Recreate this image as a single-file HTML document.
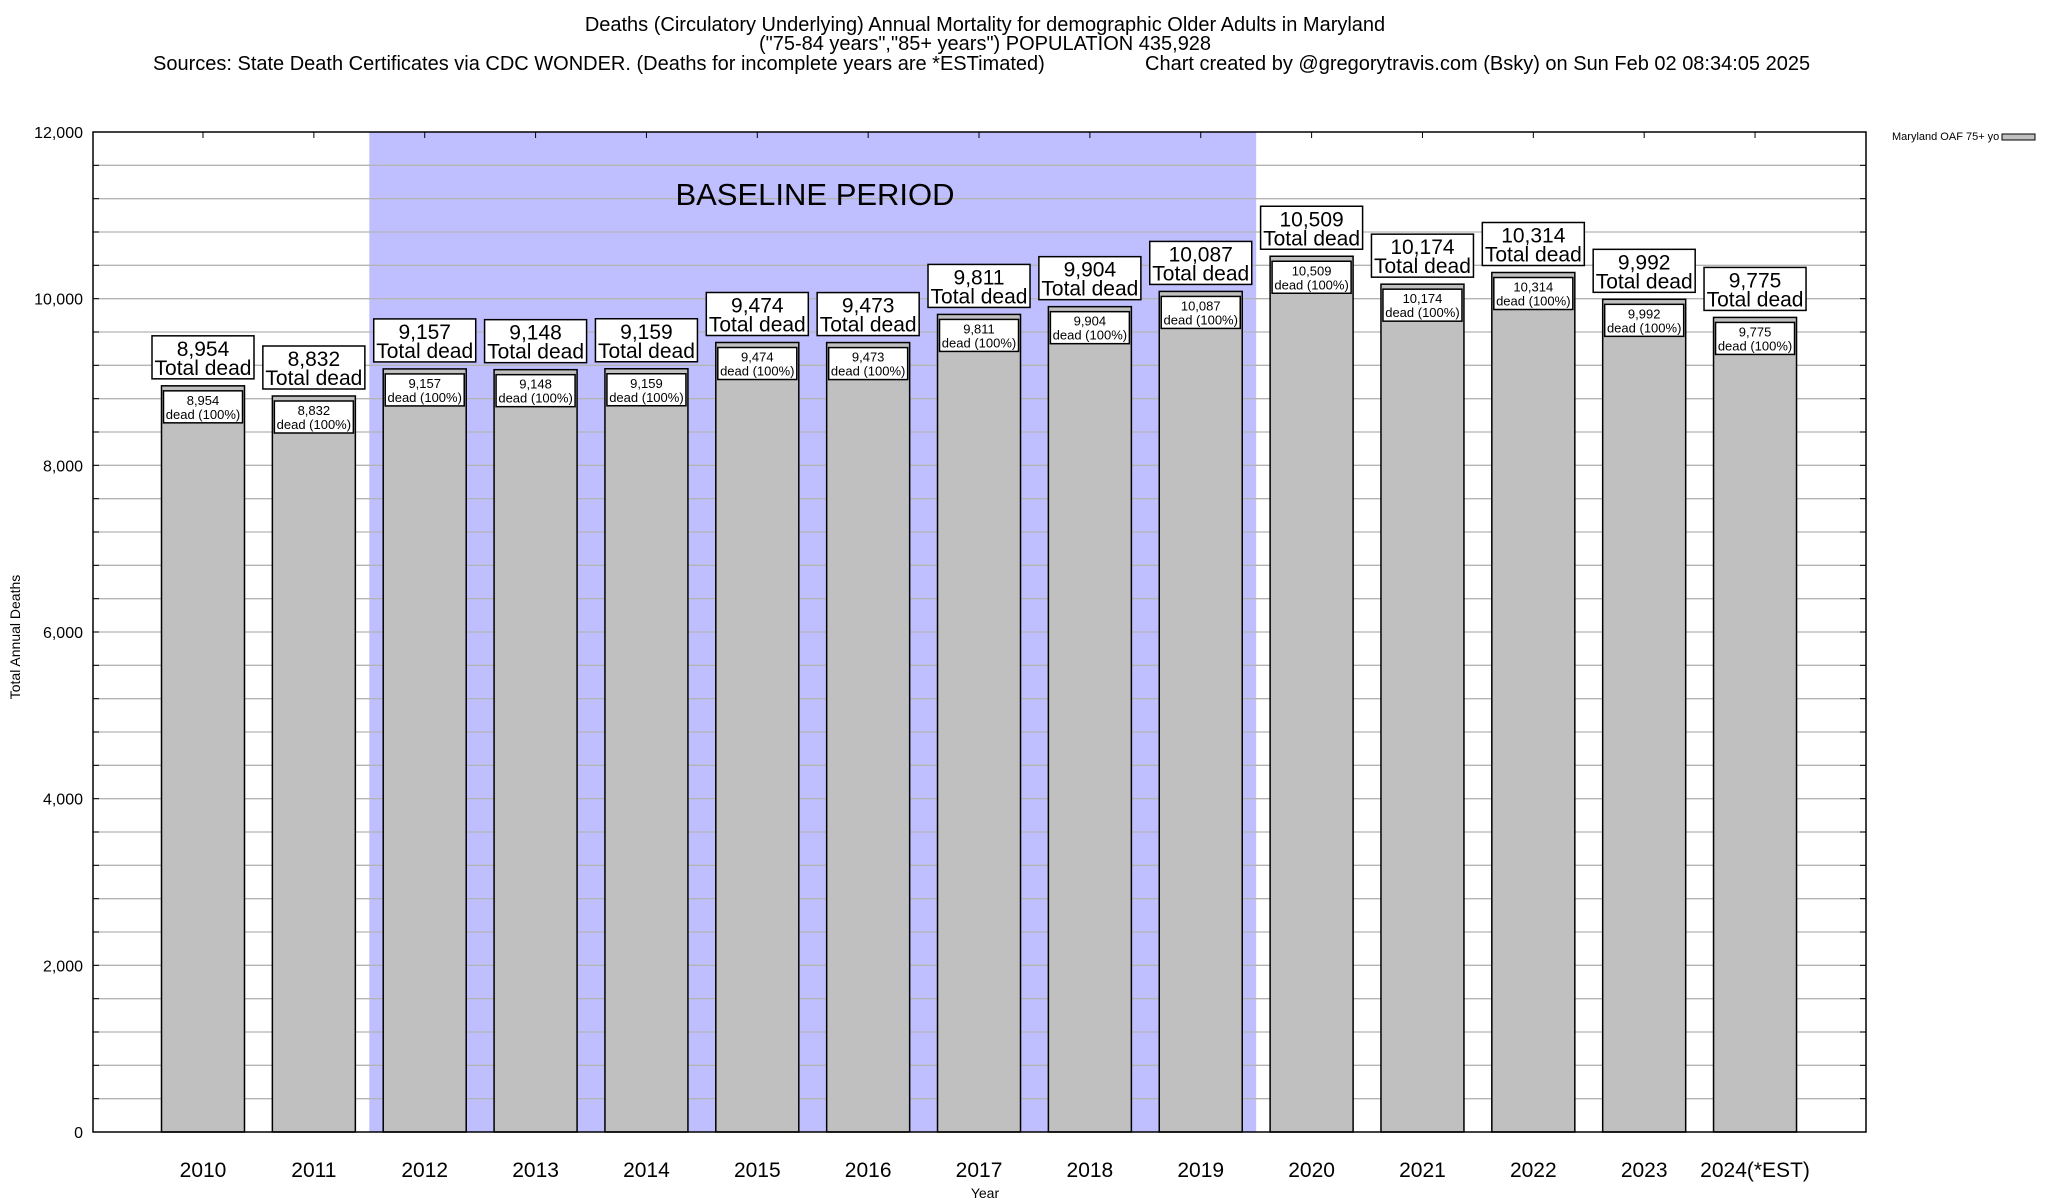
<!DOCTYPE html>
<html><head><meta charset="utf-8"><style>
html,body{margin:0;padding:0;background:#fff;}
svg{display:block;font-family:"Liberation Sans",Arial,sans-serif;}
</style></head><body>
<svg id="chart" width="2048" height="1200" viewBox="0 0 2048 1200" xmlns="http://www.w3.org/2000/svg">
<g font-size="20" fill="#000">
<text x="985" y="31" text-anchor="middle">Deaths (Circulatory Underlying) Annual Mortality for demographic Older Adults in Maryland</text>
<text x="985" y="50" text-anchor="middle">("75-84 years","85+ years") POPULATION 435,928</text>
<text x="153" y="70">Sources: State Death Certificates via CDC WONDER. (Deaths for incomplete years are *ESTimated)</text>
<text x="1145" y="70">Chart created by @gregorytravis.com (Bsky) on Sun Feb 02 08:34:05 2025</text>
</g>
<g id="plot"></g>
<text x="1892" y="140" font-size="11">Maryland OAF 75+ yo</text>
<rect x="2002" y="134" width="33" height="6" fill="#c0c0c0" stroke="#000" stroke-width="1"/>
<text transform="translate(20,637) rotate(-90)" text-anchor="middle" font-size="14">Total Annual Deaths</text>
<text x="985" y="1198" text-anchor="middle" font-size="14">Year</text>
</svg>
<script>
const categories=["2010","2011","2012","2013","2014","2015","2016","2017","2018","2019","2020","2021","2022","2023","2024(*EST)"];
const deaths=[8954,8832,9157,9148,9159,9474,9473,9811,9904,10087,10509,10174,10314,9992,9775];
const yTicks=[0,2000,4000,6000,8000,10000,12000];
const yTickLabels=["0","2,000","4,000","6,000","8,000","10,000","12,000"];
const baselineStart=2, baselineEnd=9;

const NS="http://www.w3.org/2000/svg";
const plot=document.getElementById('plot');
const L=93,R=1866,T=132,B=1132,YMAX=12000;
const y=v=>B-(v/YMAX)*(B-T);
const step=110.86, x0=203;
const x=i=>x0+i*step;
const bw=83;
function mk(tag,attrs,parent){const e=document.createElementNS(NS,tag);for(const k in attrs)e.setAttribute(k,attrs[k]);(parent||plot).appendChild(e);return e;}
const fmt=v=>v.toLocaleString('en-US');

const sh=mk('rect',{x:x(baselineStart)-step/2,y:T,width:(baselineEnd-baselineStart+1)*step,height:B-T,fill:'#bfbfff'});


for(let v=400;v<YMAX;v+=400){
  const g=mk('line',{x1:L,x2:R,y1:y(v),y2:y(v),stroke:'#b4b4b4','stroke-width':1.3});
  
  
  mk('line',{x1:L,x2:L+6,y1:y(v),y2:y(v),stroke:'#000','stroke-width':1});
  mk('line',{x1:R-6,x2:R,y1:y(v),y2:y(v),stroke:'#000','stroke-width':1});
}
const bt=mk('text',{x:815,y:205,'font-size':31,'text-anchor':'middle'});
bt.textContent='BASELINE PERIOD';


yTicks.forEach((v,i)=>{
  const t=mk('text',{x:83,y:y(v)+6,'font-size':16,'text-anchor':'end'});
  t.textContent=yTickLabels[i];
  
  
});
categories.forEach((c,i)=>{
  const v=deaths[i],cx=x(i),top=y(v);
  const g=mk('g',{});
  
  
  mk('rect',{x:cx-bw/2,y:top,width:bw,height:B-top,fill:'#c0c0c0',stroke:'#000','stroke-width':1.5},g);
  const ib=mk('rect',{x:cx-bw/2+2,y:top+5,width:bw-4,height:32,fill:'#fff',stroke:'#000','stroke-width':1.5},g);
  
  
  const t1=mk('text',{x:cx,y:top+19,'font-size':13,'text-anchor':'middle'},g);t1.textContent=fmt(v);
  const t2=mk('text',{x:cx,y:top+33,'font-size':13,'text-anchor':'middle'},g);t2.textContent='dead (100%)';
  const ob=mk('rect',{x:cx-51,y:top-50,width:102,height:43,fill:'#fff',stroke:'#000','stroke-width':1.5},g);
  
  
  const o1=mk('text',{x:cx,y:top-30,'font-size':21,'text-anchor':'middle'},g);o1.textContent=fmt(v);
  const o2=mk('text',{x:cx,y:top-11,'font-size':21,'text-anchor':'middle'},g);o2.textContent='Total dead';
  const xl=mk('text',{x:cx,y:1177,'font-size':21,'text-anchor':'middle'});
  xl.textContent=c;
  
  
  mk('line',{x1:cx,x2:cx,y1:T,y2:T+6,stroke:'#000','stroke-width':1});
});
const fr=mk('rect',{x:L,y:T,width:R-L,height:B-T,fill:'none',stroke:'#000','stroke-width':1.5});


</script>
</body></html>
